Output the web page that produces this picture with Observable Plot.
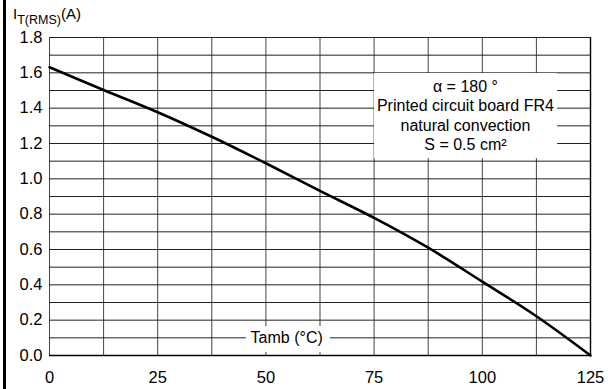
<!DOCTYPE html>
<html>
<head>
<meta charset="utf-8">
<script src="https://cdn.jsdelivr.net/npm/d3@7"></script>
<script src="https://cdn.jsdelivr.net/npm/@observablehq/plot@0.6"></script>
<style>
  html, body { margin: 0; padding: 0; background: #fff; }
  #wrap { position: relative; width: 608px; height: 389px; overflow: hidden; }
  #edge { position: absolute; left: 3px; top: 0; width: 3px; height: 389px; background: #000; }
</style>
</head>
<body>
<div id="wrap"><div id="edge"></div></div>
<script>
// Data
const temps = [0, 12.5, 25, 37.5, 50, 62.5, 75, 87.5, 100, 112.5, 125];
const current = [1.632, 1.503, 1.377, 1.238, 1.088, 0.932, 0.779, 0.610, 0.418, 0.222, 0];

// Grid / tick values
const xGrid = [0, 12.5, 25, 37.5, 50, 62.5, 75, 87.5, 100, 112.5, 125];
const xTickLabels = [0, 25, 50, 75, 100, 125];
const yGrid = [0, 0.1, 0.2, 0.3, 0.4, 0.5, 0.6, 0.7, 0.8, 0.9, 1.0, 1.1, 1.2, 1.3, 1.4, 1.5, 1.6, 1.7, 1.8];
const yTickLabels = [0, 0.2, 0.4, 0.6, 0.8, 1.0, 1.2, 1.4, 1.6, 1.8];

// Texts
const noteLines = ["α = 180 °", "Printed circuit board FR4", "natural convection", "S = 0.5 cm²"];
const xLabel = "Tamb (°C)";

const rows = temps.map((t, i) => ({t, i: current[i]}));

const chart = Plot.plot({
  width: 608,
  height: 389,
  marginLeft: 49,
  marginRight: 18,
  marginTop: 37,
  marginBottom: 34,
  style: {fontFamily: "'Liberation Sans', Arial, sans-serif", fontSize: "16.5px", background: "transparent", overflow: "visible"},
  x: {domain: [0, 125], ticks: xTickLabels, tickSize: 0, tickPadding: 16, label: null},
  y: {domain: [0, 1.8], ticks: yTickLabels, tickSize: 0, tickPadding: 7, tickFormat: d3.format(".1f"), label: null},
  marks: [
    Plot.ruleX(xGrid, {stroke: "#444", strokeWidth: 1}),
    Plot.ruleY(yGrid, {stroke: "#222", strokeWidth: 1}),
    Plot.ruleY([0], {stroke: "#000", strokeWidth: 1.6}),
    Plot.ruleX([125], {stroke: "#000", strokeWidth: 1.4}),
    // annotation backgrounds
    Plot.rect([noteLines], {x1: 75.1, x2: 117.4, y1: 1.115, y2: 1.596, fill: "white"}),
    Plot.rect([xLabel], {x1: 45.5, x2: 64.9, y1: 0.017, y2: 0.164, fill: "white"}),
    Plot.text([noteLines.join("\n")], {x: 96.1, y: 1.362, text: d => d, fontSize: 16, lineHeight: 1.2, fill: "black"}),
    Plot.text([xLabel], {x: 54.8, y: 0.097, text: d => d, fontSize: 16, fill: "black"}),
    Plot.line(rows, {x: "t", y: "i", stroke: "black", strokeWidth: 2.6, curve: "catmull-rom"})
  ]
});

// y-axis title with subscript
const svg = d3.select(chart);
const title = svg.append("text")
  .attr("x", 47)
  .attr("y", 19)
  .attr("fill", "black")
  .style("font-family", "'Liberation Sans', Arial, sans-serif")
  .style("font-size", "15px");
title.append("tspan").text("I");
title.append("tspan").attr("dy", 5).style("font-size", "12.5px").text("T(RMS)");
title.append("tspan").attr("dy", -5).text("(A)");

document.getElementById("wrap").appendChild(chart);
</script>
</body>
</html>
